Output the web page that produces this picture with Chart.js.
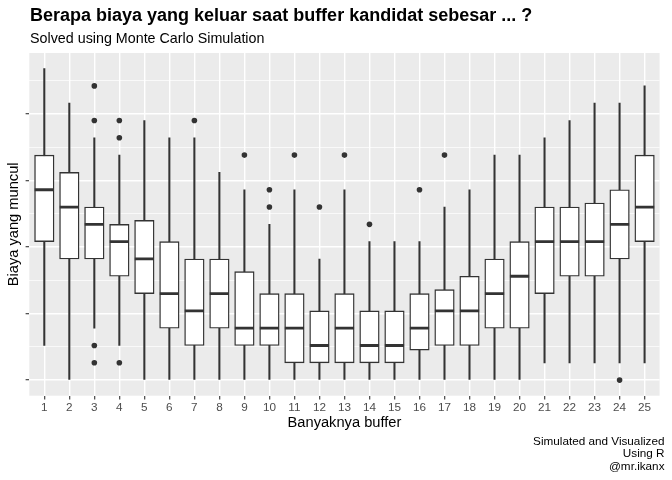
<!DOCTYPE html>
<html>
<head>
<meta charset="utf-8">
<script src="https://cdn.jsdelivr.net/npm/chart.js@4.4.1/dist/chart.umd.min.js"></script>
<style>
  html, body { margin: 0; padding: 0; background: #fff; }
  #wrap { position: relative; width: 672px; height: 480px; overflow: hidden; }
  #c { position: absolute; left: 0; top: 0; }
  .txt { position: absolute; font-family: "Liberation Sans", Arial, Helvetica, sans-serif; white-space: nowrap; color: #000; }
  #title { left: 30px; top: 5.6px; font-size: 18px; font-weight: bold; line-height: 18px; }
  #subtitle { left: 30px; top: 30.7px; font-size: 14.3px; line-height: 14.3px; }
  #caption { right: 7.5px; top: 434.6px; font-size: 11.73px; line-height: 12.67px; text-align: right; }
</style>
</head>
<body>
<div id="wrap">
  <canvas id="c" width="672" height="480"></canvas>
  <div id="title" class="txt">Berapa biaya yang keluar saat buffer kandidat sebesar ... ?</div>
  <div id="subtitle" class="txt">Solved using Monte Carlo Simulation</div>
  <div id="caption" class="txt">Simulated and Visualized<br>Using R<br>@mr.ikanx</div>
</div>
<script>
// Categories (buffer sizes) and box-plot statistics
const categories = ['1','2','3','4','5','6','7','8','9','10','11','12','13','14','15','16','17','18','19','20','21','22','23','24','25'];
const whiskerLow  = [26, 0, 39, 26, 0, 0, 0, 0, 0, 0, 0, 0, 0, 0, 0, 0, 0, 0, 0, 0, 13, 13, 13, 13, 13];
const q1          = [104, 91, 91, 78, 65, 39, 26, 39, 26, 26, 13, 13, 13, 13, 13, 22.5, 26, 26, 39, 39, 65, 78, 78, 91, 104];
const medians     = [143, 130, 117, 104, 91, 65, 52, 65, 39, 39, 39, 26, 39, 26, 26, 39, 52, 52, 65, 78, 104, 104, 104, 117, 130];
const q3          = [169, 156, 130, 117, 120, 104, 91, 91, 81.5, 65, 65, 52, 65, 52, 52, 65, 68, 78, 91, 104, 130, 130, 133, 143, 169];
const whiskerHigh = [234, 208, 182, 169, 195, 182, 182, 156, 143, 117, 143, 91, 143, 104, 104, 104, 130, 143, 169, 169, 182, 195, 208, 208, 221];
// Outliers: category and value
const outlierCat = ['3','3','3','3','4','4','4','7','9','10','10','11','12','13','14','16','17','24'];
const outlierVal = [221, 195, 26, 13, 195, 182, 13, 195, 169, 143, 130, 169, 130, 169, 117, 143, 169, 0];
// Y gridline values (major every 50, minor in between); labels are blank in the original
const yMajor = [0, 50, 100, 150, 200];
const yMinor = [25, 75, 125, 175, 225];

const FONT = "'Liberation Sans', Arial, Helvetica, sans-serif";
const DARK = '#333333';

const xPos = c => categories.indexOf(c) + 1;

const panelBg = {
  id: 'panelBg',
  beforeDraw(chart) {
    const { ctx, chartArea: a } = chart;
    ctx.save();
    ctx.fillStyle = '#ffffff';
    ctx.fillRect(0, 0, chart.width, chart.height);
    ctx.fillStyle = '#EBEBEB';
    ctx.fillRect(a.left, a.top, a.right - a.left, a.bottom - a.top);
    ctx.restore();
  }
};

const yGrid = yMajor.concat(yMinor).sort((a, b) => a - b);

new Chart(document.getElementById('c'), {
  type: 'bar',
  data: {
    datasets: [
      {
        type: 'bar',
        label: 'whisker',
        data: categories.map((c, i) => ({ x: xPos(c), y: [whiskerLow[i], whiskerHigh[i]] })),
        backgroundColor: DARK,
        borderWidth: 0,
        barThickness: 1.4,
        grouped: false,
        order: 3
      },
      {
        type: 'bar',
        label: 'box',
        data: categories.map((c, i) => ({ x: xPos(c), y: [q1[i], q3[i]] })),
        backgroundColor: '#ffffff',
        borderColor: DARK,
        borderWidth: 1.4,
        borderSkipped: false,
        barThickness: 19.5,
        grouped: false,
        order: 2
      },
      {
        type: 'scatter',
        label: 'median',
        data: categories.map((c, i) => ({ x: xPos(c), y: medians[i] })),
        pointStyle: 'line',
        pointRadius: 9.6,
        pointHoverRadius: 9.6,
        borderColor: DARK,
        backgroundColor: DARK,
        pointBorderWidth: 2.8,
        borderWidth: 2.8,
        order: 1
      },
      {
        type: 'scatter',
        label: 'outliers',
        data: outlierCat.map((c, i) => ({ x: xPos(c), y: outlierVal[i] })),
        pointStyle: 'circle',
        pointRadius: 2.8,
        pointHoverRadius: 2.8,
        backgroundColor: DARK,
        borderColor: DARK,
        borderWidth: 0,
        order: 0
      }
    ]
  },
  options: {
    responsive: false,
    animation: false,
    events: [],
    layout: { padding: { top: 53, right: 7.5, bottom: 48.3, left: 0 } },
    plugins: {
      legend: { display: false },
      tooltip: { enabled: false },
      title: { display: false }
    },
    scales: {
      x: {
        type: 'linear',
        min: 0.4,
        max: 25.6,
        offset: false,
        afterBuildTicks: s => { s.ticks = categories.map((c, i) => ({ value: i + 1 })); },
        afterFit: s => { s.height = 36; },
        grid: {
          offset: false,
          color: '#ffffff',
          lineWidth: 1.42,
          drawTicks: true,
          tickLength: 3.7,
          tickColor: DARK,
          tickWidth: 1.1
        },
        border: { display: false },
        ticks: {
          autoSkip: false,
          maxRotation: 0,
          minRotation: 0,
          padding: 1,
          color: '#4D4D4D',
          font: { family: FONT, size: 11.73 },
          callback: (v, i) => categories[i]
        },
        title: {
          display: true,
          text: 'Banyaknya buffer',
          color: '#000000',
          font: { family: FONT, size: 14.67 },
          padding: { top: 0, bottom: 0 }
        }
      },
      y: {
        type: 'linear',
        min: -11.7,
        max: 245.7,
        afterBuildTicks: s => { s.ticks = yGrid.map(v => ({ value: v })); },
        afterFit: s => { s.width = 29.3; },
        grid: {
          color: '#ffffff',
          lineWidth: c => (c.tick && yMajor.includes(c.tick.value)) ? 1.42 : 0.71,
          drawTicks: true,
          tickLength: 3.7,
          tickColor: c => (c.tick && yMajor.includes(c.tick.value)) ? DARK : 'rgba(0,0,0,0)',
          tickWidth: 1.1
        },
        border: { display: false },
        ticks: { display: false },
        title: {
          display: true,
          text: 'Biaya yang muncul',
          color: '#000000',
          font: { family: FONT, size: 14.67 },
          padding: { top: 5, bottom: 0 }
        }
      }
    }
  },
  plugins: [panelBg]
});
</script>
</body>
</html>
